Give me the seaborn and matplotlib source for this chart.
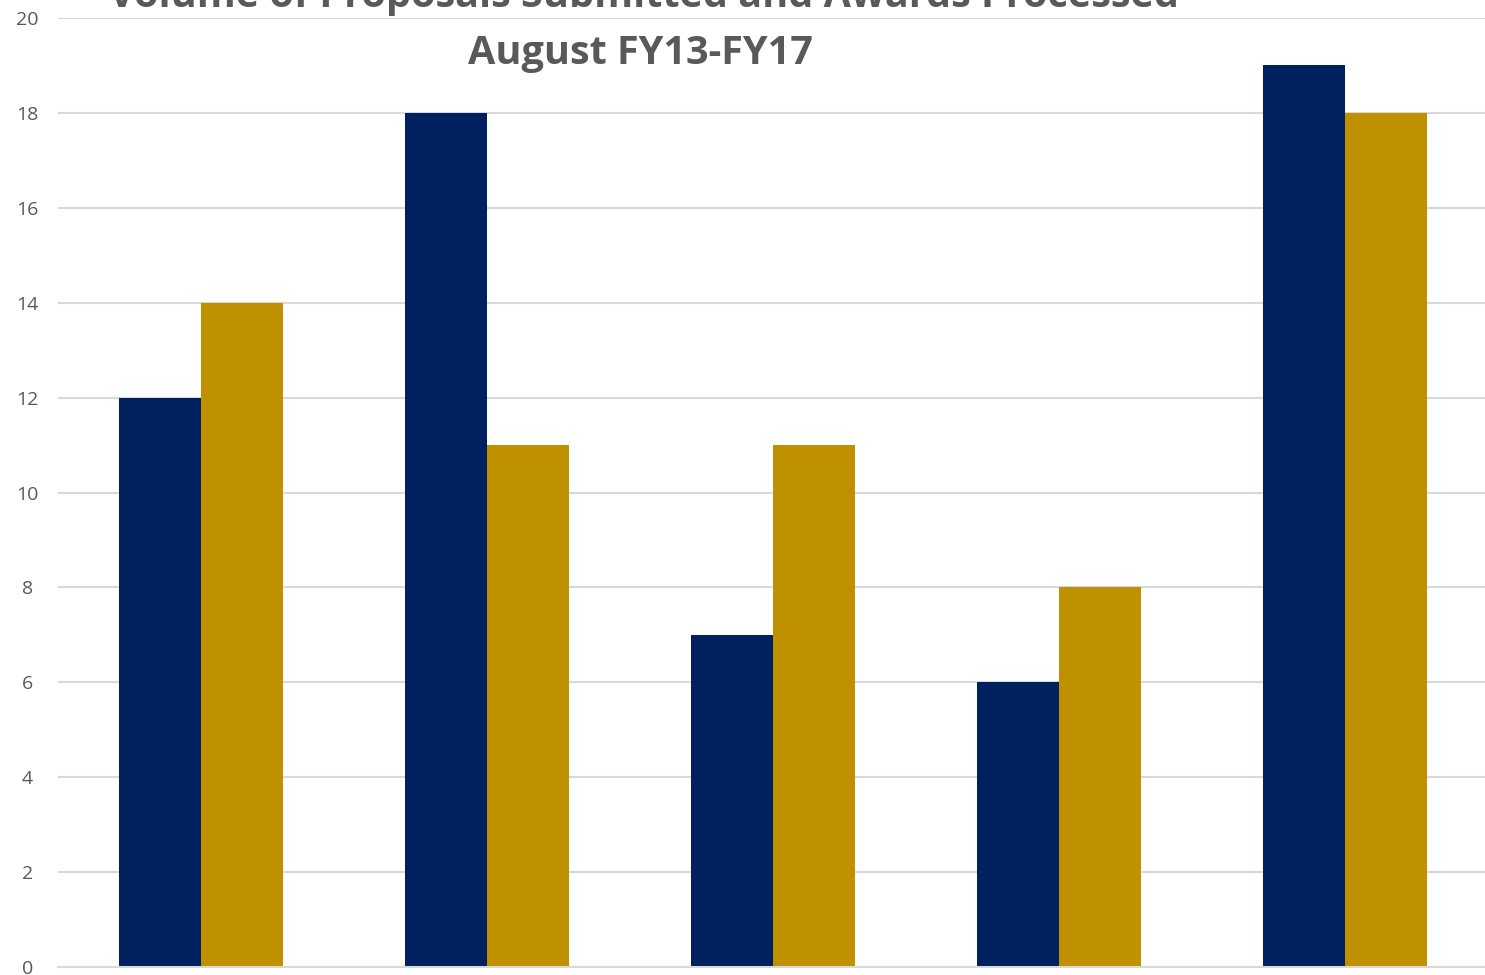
import numpy as np
import pandas as pd
import matplotlib
matplotlib.use("Agg")
import matplotlib.pyplot as plt
import seaborn as sns

# Data
years = ["FY13", "FY14", "FY15", "FY16", "FY17"]
series = ["Proposals Submitted", "Awards Processed"]
proposals = [12, 18, 7, 6, 19]
awards = [14, 11, 11, 8, 18]
title_lines = ["Volume of Proposals Submitted and Awards Processed", "August FY13-FY17"]
y_ticks = [0, 2, 4, 6, 8, 10, 12, 14, 16, 18, 20]

NAVY = "#002060"
GOLD = "#BF9000"
GREY_TXT = "#595959"
GRID = "#D9D9D9"


def main():
    df = pd.DataFrame({
        "Year": years * 2,
        "Series": [series[0]] * len(years) + [series[1]] * len(years),
        "Count": proposals + awards,
    })

    sns.set_theme(style="white")
    plt.rcParams["font.family"] = ["Open Sans", "DejaVu Sans"]

    fig = plt.figure(figsize=(14.85, 9.75), dpi=100)
    ax = fig.add_axes([58 / 1485, 8 / 975, 1430 / 1485, 949 / 975])

    sns.barplot(data=df, x="Year", y="Count", hue="Series",
                palette=[NAVY, GOLD], width=0.57, ax=ax,
                edgecolor="none", saturation=1, zorder=3)

    ax.set_ylim(0, 20)
    ax.set_xlim(-0.5, len(years) - 0.5)
    ax.set_yticks(y_ticks)
    ax.yaxis.grid(True, color=GRID, linewidth=1.5, zorder=0)
    ax.set_axisbelow(True)

    # category boundaries as tick marks, no labels visible in the crop
    ax.set_xticks(np.arange(-0.5, len(years) + 0.5, 1.0))
    ax.set_xticklabels([])
    ax.tick_params(axis="x", length=12, width=1.5, color=GRID, direction="out")
    ax.tick_params(axis="y", length=0, labelsize=14, labelcolor=GREY_TXT, pad=22)
    for lab in ax.get_yticklabels():
        lab.set_horizontalalignment("center")

    ax.set_xlabel("")
    ax.set_ylabel("")
    for side in ["left", "right", "top"]:
        ax.spines[side].set_visible(False)
    ax.spines["bottom"].set_color(GRID)
    ax.spines["bottom"].set_linewidth(1.5)
    ax.spines["bottom"].set_zorder(4)

    if ax.get_legend() is not None:
        ax.get_legend().remove()

    # Title (the first line is cut off by the top edge, as in the source)
    fig.text(644 / 1485, 1 - 7 / 975, title_lines[0], ha="center", va="baseline",
             fontsize=28.5, fontweight="bold", color=GREY_TXT)
    fig.text(640 / 1485, 1 - 64 / 975, title_lines[1], ha="center", va="baseline",
             fontsize=28.5, fontweight="bold", color=GREY_TXT)

    fig.savefig("out.png", dpi=100)
    plt.close(fig)


if __name__ == "__main__":
    main()
